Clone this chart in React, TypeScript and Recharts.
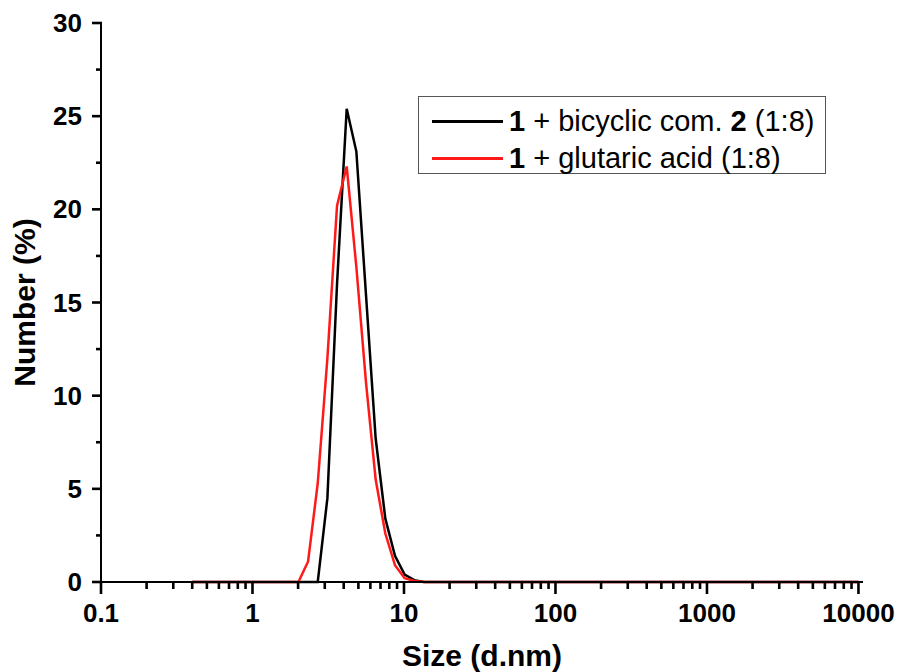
import { LineChart, Line, XAxis, YAxis, Legend } from 'recharts'

// Zetasizer size classes (d.nm)
const SIZES = [
  0.4, 0.4632, 0.5365, 0.6213, 0.7195, 0.8332, 0.9649, 1.117, 1.294, 1.499,
  1.736, 2.01, 2.328, 2.696, 3.122, 3.615, 4.187, 4.849, 5.615, 6.503,
  7.531, 8.721, 10.1, 11.7, 13.54, 15.69, 18.17, 21.04, 24.36, 28.21,
  32.67, 37.84, 43.82, 50.75, 58.77, 68.06, 78.82, 91.28, 105.7, 122.4,
  141.8, 164.2, 190.1, 220.2, 255.0, 295.3, 342.0, 396.1, 458.7, 531.2,
  615.1, 712.4, 825.0, 955.4, 1106, 1281, 1484, 1718, 1990, 2305,
  2669, 3091, 3580, 4145, 4801, 5560, 6439, 7456, 8635, 10000,
]

// 1 + bicyclic com. 2 (1:8)
const BICYCLIC = [
  0, 0, 0, 0, 0, 0, 0, 0, 0, 0,
  0, 0, 0, 0, 4.5, 16, 25.4, 23.1, 15.4, 7.7,
  3.4, 1.4, 0.4, 0.1, 0, 0, 0, 0, 0, 0,
  0, 0, 0, 0, 0, 0, 0, 0, 0, 0,
  0, 0, 0, 0, 0, 0, 0, 0, 0, 0,
  0, 0, 0, 0, 0, 0, 0, 0, 0, 0,
  0, 0, 0, 0, 0, 0, 0, 0, 0, 0,
]

// 1 + glutaric acid (1:8)
const GLUTARIC = [
  0, 0, 0, 0, 0, 0, 0, 0, 0, 0,
  0, 0, 1.1, 5.3, 12, 20.2, 22.3, 16.9, 10.7, 5.5,
  2.6, 0.9, 0.2, 0.05, 0, 0, 0, 0, 0, 0,
  0, 0, 0, 0, 0, 0, 0, 0, 0, 0,
  0, 0, 0, 0, 0, 0, 0, 0, 0, 0,
  0, 0, 0, 0, 0, 0, 0, 0, 0, 0,
  0, 0, 0, 0, 0, 0, 0, 0, 0, 0,
]

const X_MAJOR = [0.1, 1, 10, 100, 1000, 10000]
const X_MINOR_STEPS = [2, 3, 4, 5, 6, 7, 8, 9]
const Y_MAJOR = [0, 5, 10, 15, 20, 25, 30]
const Y_MINOR = [2.5, 7.5, 12.5, 17.5, 22.5, 27.5]

const FONT = '"Liberation Sans", Arial, Helvetica, sans-serif'

const data = SIZES.map((size, i) => ({ size, bicyclic: BICYCLIC[i], glutaric: GLUTARIC[i] }))

const xTicks = [
  ...X_MAJOR,
  ...X_MAJOR.slice(0, -1).flatMap((d) => X_MINOR_STEPS.map((k) => d * k)),
].sort((a, b) => a - b)
const yTicks = [...Y_MAJOR, ...Y_MINOR].sort((a, b) => a - b)

// draws its own tick mark: long for decades, short for the rest
function XTick({ x, y, payload }: any) {
  const major = X_MAJOR.includes(payload.value)
  return (
    <g>
      <line x1={x} x2={x} y1={y - 1} y2={y + (major ? 12 : 7)} stroke="#000" strokeWidth={2.6} />
      {major && (
        <text x={x} y={y + 40} textAnchor="middle" fontFamily={FONT} fontWeight="bold" fontSize={26} fill="#000">
          {String(payload.value)}
        </text>
      )}
    </g>
  )
}

function YTick({ x, y, payload }: any) {
  const major = Y_MAJOR.includes(payload.value)
  return (
    <g>
      <line x1={x + 1} x2={x - (major ? 9 : 5)} y1={y} y2={y} stroke="#000" strokeWidth={2.6} />
      {major && (
        <text x={x - 19} y={y + 9} textAnchor="end" fontFamily={FONT} fontWeight="bold" fontSize={26} fill="#000">
          {payload.value}
        </text>
      )}
    </g>
  )
}

function LegendBox() {
  const rows = [
    { color: '#000', label: (<><b>1</b> + bicyclic com. <b>2</b> (1:8)</>) },
    { color: '#ff1a1a', label: (<><b>1</b> + glutaric acid (1:8)</>) },
  ]
  return (
    <div
      style={{
        width: 408, height: 78, border: '1.5px solid #555', background: '#fff', boxSizing: 'border-box',
        fontFamily: FONT, fontSize: 29, color: '#000', paddingTop: 6,
      }}
    >
      {rows.map((r, i) => (
        <div key={i} style={{ display: 'flex', alignItems: 'center', height: 37, whiteSpace: 'pre' }}>
          <span style={{ display: 'inline-block', width: 71, height: 2.5, background: r.color, marginLeft: 13, marginRight: 6 }} />
          <span style={{ whiteSpace: 'pre' }}>{r.label}</span>
        </div>
      ))}
    </div>
  )
}

export default function App() {
  return (
    <div style={{ position: 'absolute', left: 0, top: 0, width: 900, height: 672, background: '#fff' }}>
      <LineChart width={900} height={672} data={data} margin={{ top: 23, right: 37, bottom: 0, left: 0 }}>
        <XAxis
          type="number"
          dataKey="size"
          scale="log"
          domain={[0.1, 10715]}
          allowDataOverflow
          ticks={xTicks}
          interval={0}
          height={90}
          tickSize={0}
          tickMargin={0}
          tickLine={false}
          axisLine={{ stroke: '#000', strokeWidth: 2 }}
          tick={<XTick />}
          label={{
            content: ({ viewBox }: any) => (
              <text
                x={viewBox.x + viewBox.width / 2}
                y={viewBox.y + viewBox.height - 6}
                textAnchor="middle"
                fontFamily={FONT}
                fontWeight="bold"
                fontSize={30}
                fill="#000"
              >
                Size (d.nm)
              </text>
            ),
          }}
        />
        <YAxis
          type="number"
          domain={[0, 30]}
          ticks={yTicks}
          interval={0}
          width={101}
          tickSize={0}
          tickMargin={0}
          tickLine={false}
          axisLine={{ stroke: '#000', strokeWidth: 2 }}
          tick={<YTick />}
          label={{
            content: ({ viewBox }: any) => {
              const cx = 35
              const cy = viewBox.y + viewBox.height / 2
              return (
                <text
                  x={cx}
                  y={cy}
                  transform={`rotate(-90 ${cx} ${cy})`}
                  textAnchor="middle"
                  fontFamily={FONT}
                  fontWeight="bold"
                  fontSize={30}
                  fill="#000"
                >
                  Number (%)
                </text>
              )
            },
          }}
        />
        <Legend
          layout="horizontal"
          verticalAlign="middle"
          align="center"
          wrapperStyle={{ top: 96, left: 418, width: 'auto' }}
          content={() => <LegendBox />}
        />
        <Line type="linear" dataKey="bicyclic" stroke="#000" strokeWidth={2.5} dot={false} isAnimationActive={false} />
        <Line type="linear" dataKey="glutaric" stroke="#ff1a1a" strokeWidth={2.5} dot={false} isAnimationActive={false} />
      </LineChart>
    </div>
  )
}
